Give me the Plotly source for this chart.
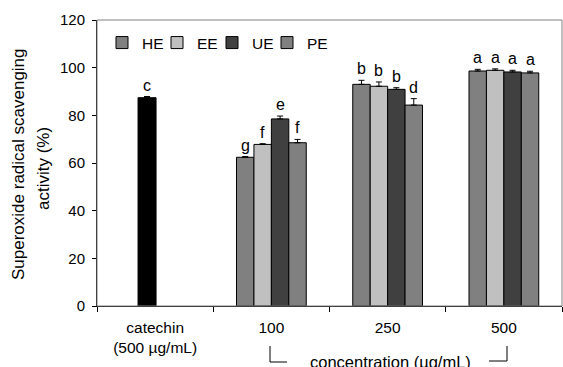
import plotly.graph_objects as go

categories = ["catechin<br>(500 µg/mL)", "100", "250", "500"]
conc = ["100", "250", "500"]
series_names = ["HE", "EE", "UE", "PE"]
series_values = {
    "HE": [62.4, 93.0, 98.6],
    "EE": [67.8, 92.2, 98.9],
    "UE": [78.5, 90.9, 98.2],
    "PE": [68.5, 84.3, 97.8],
}
series_err = {
    "HE": [0.3, 1.7, 0.7],
    "EE": [0.3, 1.8, 0.6],
    "UE": [1.2, 0.7, 0.7],
    "PE": [1.4, 2.7, 0.7],
}
series_letters = {
    "HE": ["g", "b", "a"],
    "EE": ["f", "b", "a"],
    "UE": ["e", "b", "a"],
    "PE": ["f", "d", "a"],
}
catechin_value = [87.4]
catechin_err = [0.5]
catechin_letter = ["c"]
y_title_lines = ["Superoxide radical scavenging", "activity (%)"]

colors = {"HE": "#808080", "EE": "#c0c0c0", "UE": "#404040", "PE": "#808080"}
FONT = "Liberation Sans, Arial, sans-serif"

fig = go.Figure()
bw = 0.15
offsets = [-0.3, -0.15, 0.0, 0.15]

fig.add_trace(go.Bar(
    x=[categories[0]], y=catechin_value, width=0.155, offset=-0.147,
    marker=dict(color="#000000", line=dict(color="#000000", width=1)),
    error_y=dict(type="data", array=catechin_err, arrayminus=[0], symmetric=False,
                 color="#000000", thickness=1, width=3),
    showlegend=False, name="catechin"))

for name, off in zip(series_names, offsets):
    fig.add_trace(go.Bar(
        x=conc, y=series_values[name], width=bw, offset=off, name=name,
        marker=dict(color=colors[name], line=dict(color="#000000", width=1)),
        error_y=dict(type="data", array=series_err[name],
                     arrayminus=[0] * len(conc), symmetric=False,
                     color="#000000", thickness=1, width=3)))

# invisible spacer entry so the last legend label is not clipped
fig.add_trace(go.Bar(x=[None], y=[None], name=" ", hoverinfo="skip",
                     marker=dict(color="rgba(0,0,0,0)",
                                 line=dict(color="rgba(0,0,0,0)", width=0))))

LF = dict(size=16, color="#000")
ann = []
ann.append(dict(x=0 - 0.147 + 0.155 / 2, y=catechin_value[0] + catechin_err[0],
                text=catechin_letter[0], showarrow=False, yanchor="bottom",
                yshift=1, font=LF))
for name, off in zip(series_names, offsets):
    for i, c in enumerate(conc):
        ann.append(dict(x=i + 1 + off + bw / 2,
                        y=series_values[name][i] + series_err[name][i],
                        text=series_letters[name][i], showarrow=False,
                        yanchor="bottom", yshift=1, font=LF))


def px_x(p):
    return (p - 97) / 465


def px_y(p):
    return (306 - p) / 286


for txt, cx, cy in zip(y_title_lines, [18, 43], [164, 169]):
    ann.append(dict(xref="paper", yref="paper", x=px_x(cx), y=px_y(cy),
                    text=txt, textangle=-90, showarrow=False,
                    xanchor="center", yanchor="middle",
                    font=dict(size=17, color="#000")))
ann.append(dict(xref="paper", yref="paper", x=px_x(390), y=px_y(351),
                text="concentration (µg/mL)", showarrow=False,
                xanchor="center", yanchor="top", font=dict(size=16.5, color="#000")))
fig.update_layout(annotations=ann)

shapes = [
    dict(type="rect", xref="paper", yref="paper", x0=0, x1=1, y0=0, y1=1,
         line=dict(color="#808080", width=1)),
    dict(type="line", xref="paper", yref="paper", x0=px_x(270), x1=px_x(270),
         y0=px_y(346), y1=px_y(362), line=dict(color="#000", width=1)),
    dict(type="line", xref="paper", yref="paper", x0=px_x(270), x1=px_x(287),
         y0=px_y(362), y1=px_y(362), line=dict(color="#000", width=1)),
    dict(type="line", xref="paper", yref="paper", x0=px_x(489), x1=px_x(507),
         y0=px_y(361), y1=px_y(361), line=dict(color="#000", width=1)),
    dict(type="line", xref="paper", yref="paper", x0=px_x(507), x1=px_x(507),
         y0=px_y(346), y1=px_y(361), line=dict(color="#000", width=1)),
]

fig.update_layout(
    shapes=shapes,
    width=563, height=367,
    margin=dict(l=97, r=1, t=20, b=61),
    paper_bgcolor="white", plot_bgcolor="white",
    barmode="overlay",
    font=dict(family=FONT, size=15, color="#000"),
    showlegend=True,
    legend=dict(orientation="h", x=px_x(102), y=px_y(26), xanchor="left", yanchor="top",
                bgcolor="rgba(0,0,0,0)", borderwidth=0,
                font=dict(size=15.5),
                entrywidth=10, entrywidthmode="pixels", traceorder="normal"),
    xaxis=dict(type="category", categoryorder="array", categoryarray=categories,
               range=[-0.5, 3.5], tickson="boundaries", ticks="outside", ticklen=5,
               tickcolor="#000", showline=True, linecolor="#000", linewidth=1,
               showgrid=False, zeroline=False, tickfont=dict(size=15.5),
               ticklabelstandoff=7),
    yaxis=dict(range=[0, 120], tickvals=[0, 20, 40, 60, 80, 100, 120],
               ticks="outside", ticklen=4, tickcolor="#000", showline=True,
               linecolor="#000", linewidth=1, showgrid=False, zeroline=False,
               tickfont=dict(size=15), ticklabelstandoff=4),
)

fig.write_html("out.html", config={"displayModeBar": False},
               post_script="document.body.style.margin='0';")
